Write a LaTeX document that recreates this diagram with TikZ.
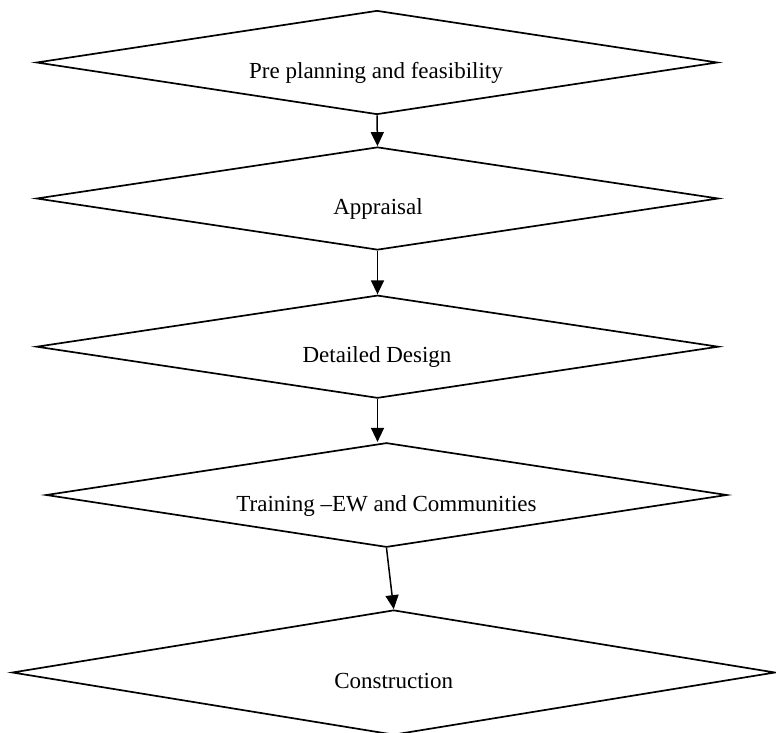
\documentclass[tikz,border=0pt]{standalone}
\usepackage{fontspec}
\setmainfont{Liberation Serif}
\usetikzlibrary{shapes.geometric,arrows.meta}
\begin{document}
\begin{tikzpicture}[x=1pt,y=-1pt,
  stage/.style={diamond, draw, line width=1.7pt, inner sep=0pt, aspect=6},
  lbl/.style={anchor=base, font=\fontsize{23}{27}\selectfont, inner sep=0pt},
  flow/.style={line width=1.5pt, -{Triangle[length=14pt,width=13pt]}}]
\useasboundingbox (0,0) rectangle (776,733);
% diamonds
\node[stage, minimum width=681pt, minimum height=104pt] (d1) at (377,62.5) {};
\node[stage, minimum width=682pt, minimum height=103pt] (d2) at (377.5,198.5) {};
\node[stage, minimum width=682pt, minimum height=103pt] (d3) at (377.5,346.7) {};
\node[stage, minimum width=681pt, minimum height=104.5pt] (d4) at (386.5,495) {};
\node[stage, minimum width=763pt, minimum height=125pt] (d5) at (393.7,672.5) {};
% labels
\node[lbl] (t1) at (376,78.5) {Pre planning and feasibility};
\node[lbl] (t2) at (378,214.5) {Appraisal};
\node[lbl] (t3) at (377,362.7) {Detailed Design};
\node[lbl] (t4) at (386.5,511) {Training –EW and Communities};
\node[lbl] (t5) at (393.7,688) {Construction};
% connectors
\draw[flow] (d1.south) -- (d2.north);
\draw[flow] (d2.south) -- (d3.north);
\draw[flow] (d3.south) -- (d3.south |- d4.north);
\draw[flow] (d4.south) -- (d5.north);
\end{tikzpicture}
\end{document}
